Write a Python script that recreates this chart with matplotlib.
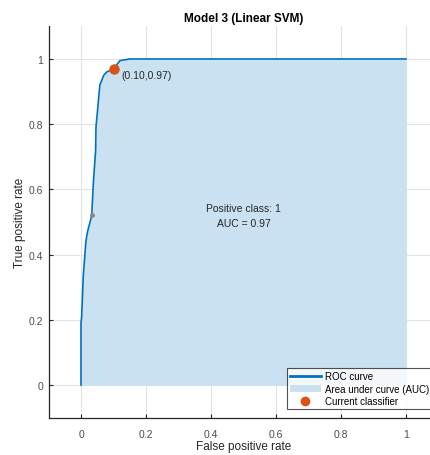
import numpy as np
import matplotlib.pyplot as plt
from matplotlib.lines import Line2D
from matplotlib.patches import Patch

plt.rcParams['font.family'] = ['Liberation Sans', 'DejaVu Sans']

# ROC curve points
fpr = [0, 0, 0.002, 0.007, 0.015, 0.02, 0.033, 0.038, 0.045, 0.046,
       0.058, 0.07, 0.079, 0.10, 0.12, 0.15, 1.0]
tpr = [0, 0.19, 0.21, 0.335, 0.44, 0.47, 0.52, 0.62, 0.72, 0.79,
       0.92, 0.95, 0.96, 0.97, 0.995, 1.0, 1.0]

# current operating point
cur_fpr = 0.10
cur_tpr = 0.97
mid_point = (0.033, 0.52)
auc = 0.97
pos_class = 1

ticks = [0, 0.2, 0.4, 0.6, 0.8, 1]
tick_labels = ['0', '0.2', '0.4', '0.6', '0.8', '1']

blue = '#0072BD'
fill = '#c9e1f0'
orange = '#D95319'

fig = plt.figure(figsize=(4.3, 4.56), dpi=100)
ax = fig.add_axes([0.1128, 0.082, 0.907, 0.858])

ax.fill_between(fpr, tpr, 0, color=fill, lw=0, zorder=1)
ax.plot(fpr, tpr, color=blue, lw=1.2, zorder=3)
ax.plot(*mid_point, 'o', ms=2.5, color='#8a8a80', zorder=4)
ax.plot(cur_fpr, cur_tpr, 'o', ms=6.5, color=orange, zorder=5)
ax.text(cur_fpr + 0.023, cur_tpr - 0.02, '(%.2f,%.2f)' % (cur_fpr, cur_tpr),
        fontsize=7.5, color='#262626', va='center', ha='left')
ax.text(0.5, 0.52, 'Positive class: %d\nAUC = %.2f' % (pos_class, auc),
        fontsize=7.5, color='#262626', ha='center', va='center',
        linespacing=1.6)

ax.set_xlim(-0.1, 1.1)
ax.set_ylim(-0.1, 1.1)
ax.set_xticks(ticks)
ax.set_xticklabels(tick_labels)
ax.set_yticks(ticks)
ax.set_yticklabels(tick_labels)
ax.tick_params(direction='in', length=3, width=0.8, labelsize=7.5,
               colors='#262626', labelcolor='#4d4d4d')
ax.tick_params(axis='x', pad=8)
ax.tick_params(axis='y', pad=4)
ax.grid(True, color='#e3e3e3', lw=0.8)
ax.set_axisbelow(True)
for s in ['top', 'right']:
    ax.spines[s].set_visible(False)
for s in ['left', 'bottom']:
    ax.spines[s].set_color('#262626')
    ax.spines[s].set_linewidth(0.9)

ax.set_title('Model 3 (Linear SVM)', fontsize=8.5, fontweight='bold', pad=4)
ax.set_xlabel('False positive rate', fontsize=8.5, color='#262626', labelpad=1)
ax.set_ylabel('True positive rate', fontsize=8.5, color='#262626', labelpad=2)

handles = [Line2D([], [], color=blue, lw=2),
           Patch(facecolor=fill, edgecolor='none'),
           Line2D([], [], marker='o', ls='none', color=orange, ms=6)]
labels = ['ROC curve', 'Area under curve (AUC)', 'Current classifier']
leg = ax.legend(handles, labels, loc='lower right', bbox_to_anchor=(0.985, 0.022),
                fontsize=7, frameon=True, fancybox=False, borderpad=0.3,
                labelspacing=0.25, handlelength=3.2, handletextpad=0.5,
                borderaxespad=0)
leg.get_frame().set_edgecolor('#262626')
leg.get_frame().set_linewidth(0.8)

fig.savefig('out.png', dpi=100)
